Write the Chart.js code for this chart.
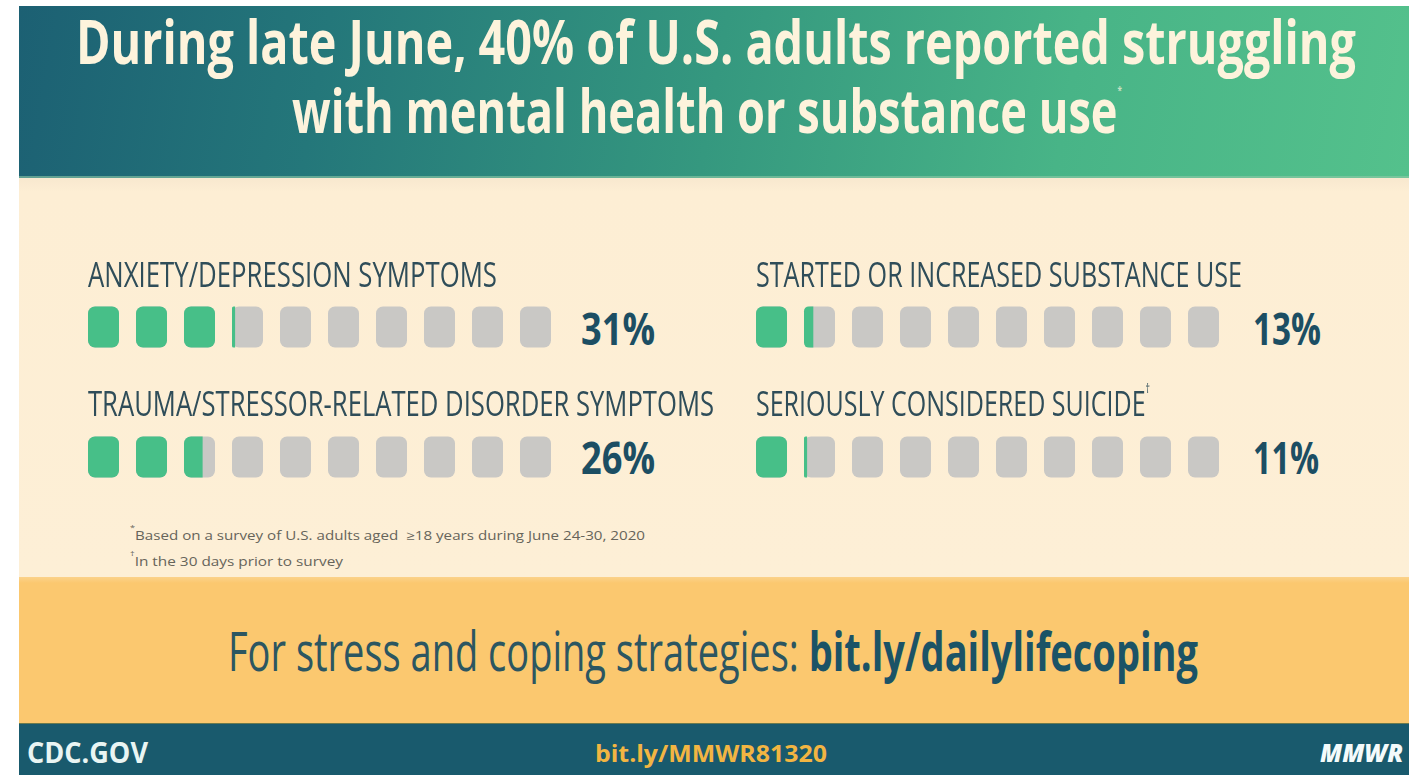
<!DOCTYPE html>
<html>
<head>
<meta charset="utf-8">
<script src="https://cdn.jsdelivr.net/npm/chart.js@4.4.1/dist/chart.umd.min.js"></script>
<style>
  html, body { margin: 0; padding: 0; background: #fff; }
  #page { position: relative; width: 1409px; height: 775px; overflow: hidden; background: #fff; }
  .band { position: absolute; left: 19px; right: 0; }
  #band-title { top: 6px; height: 172px;
    background: linear-gradient(100deg, #1c6073 0%, #24777a 22%, #35987f 50%, #48b487 75%, #54c18c 100%); }
  #band-title::after { content: ""; position: absolute; left: 0; right: 0; bottom: 0; height: 2px; background: #8fc9a6; opacity: .6; }
  #band-cream { top: 178px; height: 399px; background: linear-gradient(#f8e8cf 0px, #fdeed4 14px, #fdefd6 100%); }
  #band-orange { top: 577px; height: 146px; background: linear-gradient(#fbd28a 0px, #fbc86f 6px, #fbc86f 100%); }
  #band-foot { top: 723px; height: 52px; background: #195a6d; border-top: 1px solid #6b7a4e; }
  .txt { position: absolute; white-space: nowrap; line-height: 1; transform-origin: 0 0;
         font-family: 'Open Sans', 'Noto Sans', sans-serif; }
  .txt sup { font-size: 35%; vertical-align: baseline; position: relative; top: -1.9em; }
  .txt sup.tiny { font-size: 18%; top: -3.6em; opacity: .7; }
  canvas.waffle { position: absolute; }
</style>
</head>
<body>
<div id="page">
  <div class="band" id="band-title"></div>
  <div class="band" id="band-cream"></div>
  <div class="band" id="band-orange"></div>
  <div class="band" id="band-foot"></div>
  <canvas class="waffle" id="waffle-left" width="463" height="260"></canvas>
  <canvas class="waffle" id="waffle-right" width="463" height="260"></canvas>
</div>
<script>
// ── Data ────────────────────────────────────────────────────────────────────
const CATEGORIES = [
  "ANXIETY/DEPRESSION SYMPTOMS",
  "TRAUMA/STRESSOR-RELATED DISORDER SYMPTOMS",
  "STARTED OR INCREASED SUBSTANCE USE",
  "SERIOUSLY CONSIDERED SUICIDE"
];
const CATEGORY_MARKS = ["", "", "", "†"];
const VALUES = [31, 26, 13, 11];           // percent of U.S. adults
const BOX_COUNT = 10;                      // each box = 10%
const FOOTNOTES = [
  "<sup style='top:-1.3em;font-size:60%'>*</sup>Based on a survey of U.S. adults aged &nbsp;≥18 years during June 24-30, 2020",
  "<sup style='top:-1.3em;font-size:60%'>†</sup>In the 30 days prior to survey"
];

// ── Look ────────────────────────────────────────────────────────────────────
const GREEN = "#47bf88";
const GRAY = "#c9c8c5";
const PITCH = 10;          // x units per box slot
const BOX_W = 6.46;        // box width in x units
const BOX_H = 41;
const RADIUS = 7;
const ASC = 0.888;         // baseline offset for line-height 1 (Open Sans)

const page = document.getElementById("page");

function addText(html, o) {
  const el = document.createElement("div");
  el.className = "txt";
  el.innerHTML = html;
  el.style.left = o.x + "px";
  el.style.top = (o.base - ASC * o.size) + "px";
  el.style.fontSize = o.size + "px";
  el.style.fontWeight = o.weight || 400;
  el.style.color = o.color;
  if (o.italic) el.style.fontStyle = "italic";
  page.appendChild(el);
  const w = el.getBoundingClientRect().width;
  el.style.transform = `scaleX(${o.width / w})`;
  return el;
}

// ── Title ───────────────────────────────────────────────────────────────────
const TITLE_COLOR = "#fdf3dc";
addText("During late June, 40% of U.S. adults reported struggling",
  { x: 76, base: 64, size: 60, width: 1280, weight: 700, color: TITLE_COLOR });
addText("with mental health or substance use<sup class='tiny'>*</sup>",
  { x: 292, base: 133, size: 60, width: 830, weight: 700, color: TITLE_COLOR });

// ── Waffle rows ─────────────────────────────────────────────────────────────
const COLUMNS = [
  { canvas: "waffle-left",  x: 88,  rows: [0, 1], pctX: 581 },
  { canvas: "waffle-right", x: 756, rows: [2, 3], pctX: 1253 }
];
const CHART_TOP = 262;
const CHART_H = 260;
const LABEL_BASE = [287, 416];
const PCT_BASE = [345, 474];
const LABEL_W = [409, 626, 486, 394];
const PCT_W = [74, 74, 68, 66];

function boxData(rowIdx) {
  const filled = [], empty = [];
  rowIdx.forEach((r) => {
    const label = CATEGORIES[r];
    for (let i = 0; i < BOX_COUNT; i++) {
      const start = i * PITCH;
      empty.push({ y: label, x: [start, start + BOX_W] });
      const frac = Math.max(0, Math.min(1, VALUES[r] / (100 / BOX_COUNT) - i));
      if (frac > 0) filled.push({ y: label, x: [start, start + BOX_W * frac], full: frac >= 1 });
    }
  });
  return { filled, empty };
}

COLUMNS.forEach((col) => {
  const canvas = document.getElementById(col.canvas);
  canvas.style.left = col.x + "px";
  canvas.style.top = CHART_TOP + "px";
  canvas.style.width = "463px";
  canvas.style.height = CHART_H + "px";
  const { filled, empty } = boxData(col.rows);

  new Chart(canvas, {
    type: "bar",
    data: {
      labels: col.rows.map((r) => CATEGORIES[r]),
      datasets: [
        {
          label: "Reported",
          data: filled,
          backgroundColor: GREEN,
          borderRadius: (ctx) => (ctx.raw && ctx.raw.full)
            ? RADIUS
            : { topLeft: RADIUS, bottomLeft: RADIUS, topRight: 0, bottomRight: 0 }
        },
        { label: "Scale", data: empty, backgroundColor: GRAY, borderRadius: RADIUS }
      ]
    },
    options: {
      indexAxis: "y",
      responsive: false,
      animation: false,
      events: [],
      datasets: { bar: { grouped: false, barThickness: BOX_H, borderSkipped: false, borderWidth: 0, inflateAmount: 0 } },
      layout: { padding: 0 },
      scales: {
        x: { type: "linear", min: 0, max: (BOX_COUNT - 1) * PITCH + BOX_W, display: false },
        y: { display: false }
      },
      plugins: { legend: { display: false }, tooltip: { enabled: false } }
    }
  });

  col.rows.forEach((r, k) => {
    addText(CATEGORIES[r] + (CATEGORY_MARKS[r] ? `<sup>${CATEGORY_MARKS[r]}</sup>` : ""),
      { x: col.x, base: LABEL_BASE[k], size: 35, width: LABEL_W[r], weight: 500, color: "#2f4d59" });
    addText(VALUES[r] + "%",
      { x: col.pctX, base: PCT_BASE[k], size: 45, width: PCT_W[r], weight: 700, color: "#1c4e63" });
  });
});

// ── Footnotes ───────────────────────────────────────────────────────────────
addText(FOOTNOTES[0], { x: 130, base: 541, size: 12.5, width: 515, color: "#66645a" });
addText(FOOTNOTES[1], { x: 130, base: 567, size: 12.5, width: 213, color: "#66645a" });

// ── Call to action + footer ─────────────────────────────────────────────────
addText("For stress and coping strategies: <b style='color:#1b5366'>bit.ly/dailylifecoping</b>",
  { x: 228, base: 671, size: 54, width: 970, weight: 500, color: "#2c5661" });
addText("CDC.GOV", { x: 27, base: 763, size: 28, width: 121, weight: 700, color: "#e9f5f3" });
addText("bit.ly/MMWR81320", { x: 595, base: 762, size: 24, width: 232, weight: 700, color: "#f2b542" });
addText("MMWR", { x: 1320, base: 762, size: 24, width: 83, weight: 800, italic: true, color: "#f4fbfb" });
</script>
</body>
</html>
